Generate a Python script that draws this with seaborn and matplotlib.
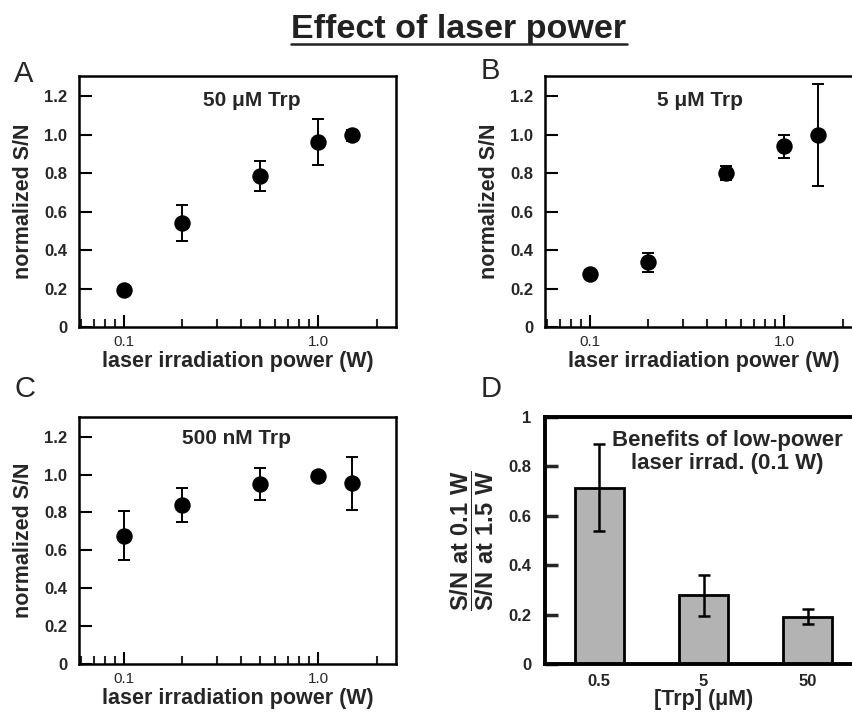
import numpy as np
import pandas as pd
import matplotlib
matplotlib.use('Agg')
import matplotlib.pyplot as plt
from matplotlib.lines import Line2D
from matplotlib.ticker import NullFormatter, LogLocator, FixedLocator
import seaborn as sns

# ---------------- data ----------------
power = [0.1, 0.2, 0.5, 1.0, 1.5]
sn_50uM = [0.19, 0.54, 0.785, 0.96, 0.996]
err_50uM = [0.02, 0.095, 0.078, 0.12, 0.03]
sn_5uM = [0.275, 0.336, 0.80, 0.94, 0.996]
err_5uM = [0.02, 0.05, 0.035, 0.06, 0.265]
sn_500nM = [0.678, 0.838, 0.951, 0.995, 0.953]
err_500nM = [0.13, 0.09, 0.085, 0.02, 0.138]
trp_conc = ['0.5', '5', '50']
ratio = [0.714, 0.278, 0.191]
ratio_err = [0.175, 0.082, 0.03]

sn_ticks = [0, 0.2, 0.4, 0.6, 0.8, 1.0, 1.2]
sn_ticklabels = ['0', '0.2', '0.4', '0.6', '0.8', '1.0', '1.2']
ratio_ticks = [0, 0.2, 0.4, 0.6, 0.8, 1.0]
ratio_ticklabels = ['0', '0.2', '0.4', '0.6', '0.8', '1']
power_ticks = [0.1, 1.0]
power_ticklabels = ['0.1', '1.0']

# ---------------- style ----------------
sns.set_style('ticks')
plt.rcParams['font.family'] = ['Liberation Sans', 'DejaVu Sans']
plt.rcParams['mathtext.fontset'] = 'custom'
plt.rcParams['mathtext.bf'] = 'Liberation Sans:bold'
plt.rcParams['mathtext.rm'] = 'Liberation Sans'

W, H = 852, 717
fig = plt.figure(figsize=(W / 100, H / 100), dpi=100)


def ax_rect(left, top, right, bottom):
    return [left / W, 1 - bottom / H, (right - left) / W, (bottom - top) / H]


axA = fig.add_axes(ax_rect(79, 76, 396, 327))
axB = fig.add_axes(ax_rect(545, 76, 862, 327))
axC = fig.add_axes(ax_rect(79, 417, 396, 664))
axD = fig.add_axes(ax_rect(545, 417, 862, 664))

LABEL_FS = 15.5
YTICK_FS = 12
XTICK_FS = 11


def scatter_panel(ax, y, e, label, lx, ly):
    df = pd.DataFrame({'power': power, 'sn': y})
    ax.errorbar(power, y, yerr=e, fmt='none', ecolor='black', elinewidth=1.4,
                capsize=4.5, capthick=1.4, zorder=2)
    sns.scatterplot(data=df, x='power', y='sn', ax=ax, color='black', s=140,
                    edgecolor='black', linewidth=0, zorder=3, legend=False)
    ax.set_xscale('log')
    ax.set_xlim(0.0586, 2.52)
    ax.set_ylim(0, 1.304)
    ax.set_yticks(sn_ticks, labels=sn_ticklabels)
    ax.xaxis.set_major_locator(FixedLocator(power_ticks))
    ax.set_xticklabels(power_ticklabels)
    ax.xaxis.set_minor_locator(LogLocator(base=10, subs=np.arange(2, 10)))
    ax.xaxis.set_minor_formatter(NullFormatter())
    ax.tick_params(axis='both', which='major', direction='in', length=9,
                   width=1.5, color='black', top=False, right=False)
    ax.tick_params(axis='x', which='minor', direction='in', length=5.5,
                   width=1.5, top=False)
    ax.tick_params(axis='y', which='major', pad=8.5, labelsize=YTICK_FS)
    ax.tick_params(axis='x', which='major', pad=6, labelsize=XTICK_FS)
    for t in ax.get_yticklabels():
        t.set_fontweight('bold')
    for s in ax.spines.values():
        s.set_visible(True)
        s.set_linewidth(1.8)
        s.set_color('black')
    ax.set_xlabel('laser irradiation power (W)', fontsize=LABEL_FS,
                  fontweight='bold', labelpad=1)
    ax.set_ylabel('normalized S/N', fontsize=LABEL_FS, fontweight='bold',
                  labelpad=7.5)
    ax.text(lx, ly, label, transform=ax.transAxes, ha='center', va='center',
            fontsize=15, fontweight='bold')


scatter_panel(axA, sn_50uM, err_50uM, '50 μM Trp', 0.546, 0.904)
scatter_panel(axB, sn_5uM, err_5uM, '5 μM Trp', 0.489, 0.904)
scatter_panel(axC, sn_500nM, err_500nM, '500 nM Trp', 0.496, 0.914)

# ---------------- panel D ----------------
dfD = pd.DataFrame({'conc': trp_conc, 'ratio': ratio})
sns.barplot(data=dfD, x='conc', y='ratio', ax=axD, color='#b3b3b3',
            edgecolor='black', linewidth=2, width=0.47, saturation=1)
axD.errorbar(range(len(trp_conc)), ratio, yerr=ratio_err, fmt='none',
             ecolor='black', elinewidth=1.8, capsize=4.5, capthick=1.8,
             zorder=3)
axD.set_xlim(-0.52, 2.52)
axD.set_ylim(0, 1.0)
axD.set_yticks(ratio_ticks, labels=ratio_ticklabels)
axD.tick_params(axis='y', which='major', direction='in', length=9, width=2.5,
                labelsize=YTICK_FS, pad=10, right=False)
axD.tick_params(axis='x', which='major', length=0, labelsize=YTICK_FS, pad=7)
for t in axD.get_yticklabels() + axD.get_xticklabels():
    t.set_fontweight('bold')
for s in axD.spines.values():
    s.set_visible(True)
    s.set_linewidth(2.8)
    s.set_color('black')
axD.set_xlabel('[Trp] (μM)', fontsize=LABEL_FS, fontweight='bold',
               labelpad=0.5)
axD.set_ylabel(r'$\dfrac{\mathbf{S/N\ at\ 0.1\ W}}{\mathbf{S/N\ at\ 1.5\ W}}$',
               fontsize=17, labelpad=8.5)
axD.text(0.574, 0.859, 'Benefits of low-power\nlaser irrad. (0.1 W)',
         transform=axD.transAxes, ha='center', va='center', fontsize=16,
         fontweight='bold', linespacing=1.1)

# ---------------- panel letters and title ----------------
for letter, x, y in [('A', 14, 82), ('B', 481, 79), ('C', 14, 397),
                     ('D', 481, 397)]:
    fig.text(x / W, 1 - y / H, letter, fontsize=21, ha='left',
             va='baseline')

title = fig.text(459 / W, 1 - 38 / H, 'Effect of laser power',
                 family=['Liberation Sans Narrow', 'Liberation Sans',
                         'DejaVu Sans'],
                 fontsize=24.5, fontweight='bold', ha='center', va='baseline',
                 color='#222222')
fig.canvas.draw()
bb = title.get_window_extent(renderer=fig.canvas.get_renderer())
y_line = 1 - 43.5 / H
fig.add_artist(Line2D([bb.x0 / W, bb.x1 / W], [y_line, y_line],
                      transform=fig.transFigure, color='#222222', lw=1.8))

fig.savefig('out.png', dpi=100)
